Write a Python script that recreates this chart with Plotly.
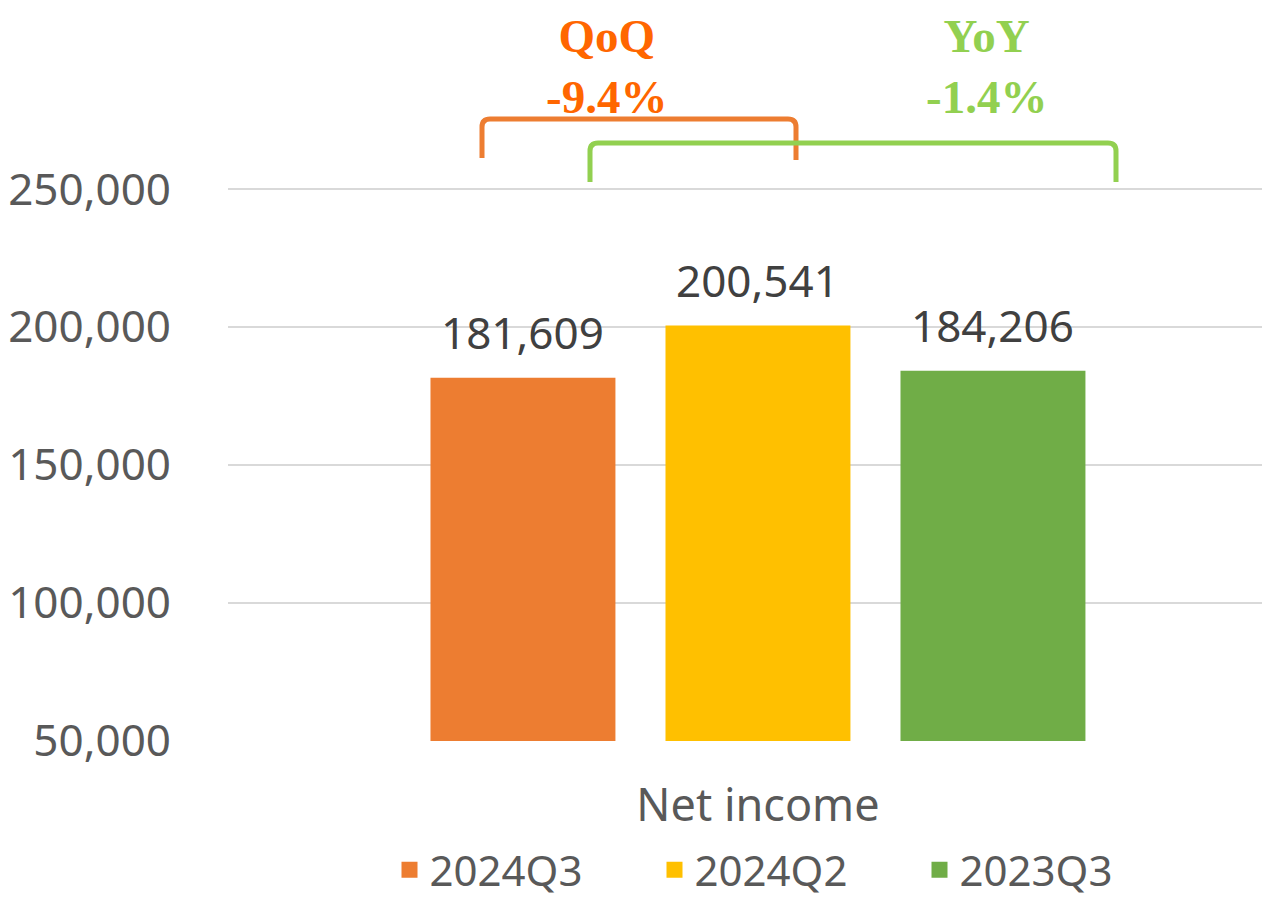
import plotly.graph_objects as go

categories = ["Net income"]
series_names = ["2024Q3", "2024Q2", "2023Q3"]
series_values = [181609, 200541, 184206]
series_colors = ["#ED7D31", "#FFC000", "#70AD47"]
y_ticks = [50000, 100000, 150000, 200000, 250000]
qoq_label = ["QoQ", "-9.4%"]
yoy_label = ["YoY", "-1.4%"]

OFF = 8  # page body margin in the browser
W, H = 1270 - OFF, 905 - OFF
ML, MR, MT, MB = 228 - OFF, 0, 188 - OFF, 164
PW = W - ML - MR
PH = H - MT - MB

BARGAP = 0.3234
BARGROUPGAP = 0.213
XR = [-0.5086, 0.4914]
YR = [50000, 250400]


def px(x):
    return (x - OFF - ML) / PW


def py(y):
    return (H - MB - (y - OFF)) / PH


fig = go.Figure()
for name, val, col in zip(series_names, series_values, series_colors):
    fig.add_trace(go.Bar(
        x=categories, y=[val], name=name, legendgroup=name, showlegend=False,
        marker=dict(color=col, line=dict(width=0)),
    ))
for name, col in zip(series_names, series_colors):
    fig.add_trace(go.Scatter(
        x=[None], y=[None], name=name, legendgroup=name, mode="markers",
        marker=dict(symbol="square", size=26, color=col), hoverinfo="skip",
    ))

# data labels above bars
slot = (1 - BARGAP) / len(series_names)
annotations = []
for i, val in enumerate(series_values):
    annotations.append(dict(
        x=(i - (len(series_values) - 1) / 2) * slot, y=val, xref="x", yref="y",
        text=f"{val:,}", showarrow=False, yanchor="middle", yshift=46,
        font=dict(family="Noto Sans", size=44, color="#404040"),
    ))

serif = "Liberation Serif, Times New Roman, serif"
for (lbl, col, xc) in [
    (qoq_label, "#FF6600", 606),
    (yoy_label, "#92D050", 986),
]:
    annotations.append(dict(x=px(xc), y=py(OFF), xref="paper", yref="paper",
                            text=f"<b>{lbl[0]}<br>{lbl[1]}</b>", showarrow=False,
                            xanchor="center", yanchor="top", align="center",
                            font=dict(family=serif, size=47, color=col)))


def bracket(x0, x1, ytop, ybot0, ybot1, r=8):
    rx = r / PW
    ry = r / PH
    X0, X1 = px(x0), px(x1)
    YT = py(ytop)
    return (f"M {X0} {py(ybot0)} L {X0} {YT - ry} Q {X0} {YT} {X0 + rx} {YT} "
            f"L {X1 - rx} {YT} Q {X1} {YT} {X1} {YT - ry} L {X1} {py(ybot1)}")


shapes = [
    dict(type="path", xref="paper", yref="paper",
         path=bracket(482, 796, 119, 158, 160), line=dict(color="#ED7D31", width=5)),
    dict(type="path", xref="paper", yref="paper",
         path=bracket(590, 1116, 143, 182, 182), line=dict(color="#92D050", width=5)),
]

fig.update_layout(
    width=W, height=H,
    margin=dict(l=ML, r=MR, t=MT, b=MB, pad=0, autoexpand=False),
    paper_bgcolor="white", plot_bgcolor="white",
    barmode="group", bargap=BARGAP, bargroupgap=BARGROUPGAP,
    font=dict(family="Noto Sans", color="#595959"),
    xaxis=dict(type="category", range=XR, showgrid=False, zeroline=False,
               showline=False, ticks="", ticklabelstandoff=34, automargin=False,
               tickfont=dict(family="Noto Sans", size=45, color="#595959")),
    yaxis=dict(range=YR, tickvals=y_ticks, tickformat=",d",
               showgrid=True, gridcolor="#D9D9D9", gridwidth=2, zeroline=False,
               showline=False, ticks="", ticklabelstandoff=56, automargin=False,
               tickfont=dict(family="Noto Sans", size=44, color="#595959")),
    showlegend=True,
    legend=dict(orientation="h", x=px(787), xanchor="center", y=py(904), yanchor="bottom",
                font=dict(family="Noto Sans", size=42, color="#595959"),
                itemwidth=30, traceorder="normal", itemsizing="trace",
                entrywidth=220, entrywidthmode="pixels"),
    annotations=annotations,
    shapes=shapes,
)

fig.write_html("out.html")
